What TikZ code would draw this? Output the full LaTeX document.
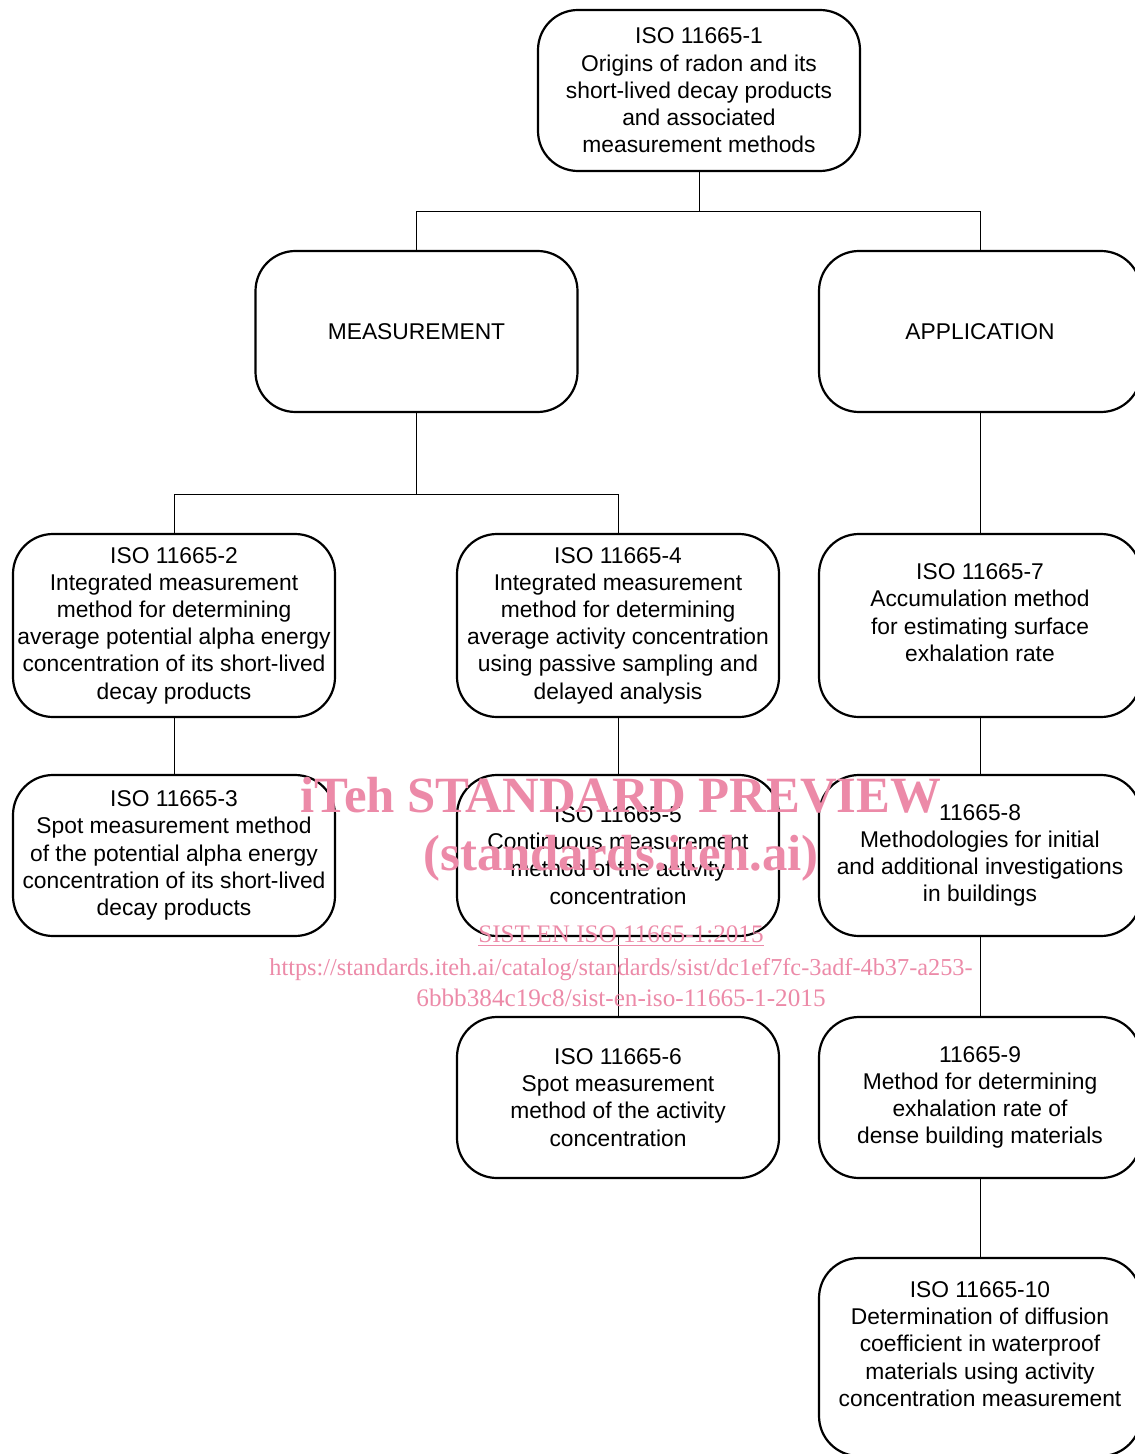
\documentclass[tikz,border=0pt]{standalone}
\usepackage{fontspec}
\setmainfont{Liberation Sans}
\newfontfamily\wmfont{Liberation Serif}
\definecolor{wmpink}{RGB}{236,138,168}

\begin{document}
\begin{tikzpicture}[x=0.5pt,y=-0.5pt]
		\tikzstyle{box}=[draw,line width=1.1pt,rounded corners=20pt,align=center,inner sep=2pt,
			minimum width=161pt,minimum height=80.5pt,font=\fontsize{11.4}{13.6}\selectfont]
		\tikzstyle{tall}=[minimum height=91.5pt]
		\tikzstyle{link}=[line width=0.5pt]
		\tikzstyle{wm}=[text=wmpink,anchor=base,inner sep=0pt]

		\useasboundingbox (0,0) rectangle (1134,1454);

		% top of the tree
		\node[box] (iso1) at (699,90.5) {ISO 11665-1\\Origins of radon and its\\short-lived decay products\\and associated\\measurement methods};
		\node[box] (meas) at (416.5,331.5) {MEASUREMENT};
		\node[box] (appl) at (980,331.5) {APPLICATION};

		% measurement side
		\node[box,tall] (iso2) at (174,625.5) {ISO 11665-2\\Integrated measurement\\method for determining\\average potential alpha energy\\concentration of its short-lived\\decay products};
		\node[box,tall] (iso4) at (618,625.5) {ISO 11665-4\\Integrated measurement\\method for determining\\average activity concentration\\using passive sampling and\\delayed analysis};
		\node[box] (iso3) at (174,855.5) {ISO 11665-3\\Spot measurement method\\of the potential alpha energy\\concentration of its short-lived\\decay products};
		\node[box] (iso5) at (618,855.5) {ISO 11665-5\\Continuous measurement\\method of the activity\\concentration};
		\node[box] (iso6) at (618,1097.5) {ISO 11665-6\\Spot measurement\\method of the activity\\concentration};

		% application side
		\node[box,tall] (iso7) at (980,625.5) {ISO 11665-7\\Accumulation method\\for estimating surface\\exhalation rate\\[-0.6pt]\mbox{}};
		\node[box] (iso8) at (980,855.5) {11665-8\\Methodologies for initial\\and additional investigations\\in buildings};
		\node[box] (iso9) at (980,1097.5) {11665-9\\Method for determining\\exhalation rate of\\dense building materials};
		\node[box,minimum height=99pt] (iso10) at (980,1357) {ISO 11665-10\\Determination of diffusion\\coefficient in waterproof\\materials using activity\\concentration measurement\\[-0.6pt]\mbox{}};

		\draw[link] (iso1.south) -- ++(0,39) -| (meas.north);
		\draw[link] (iso1.south) ++(0,39) -| (appl.north);
		\draw[link] (meas.south) -- ++(0,81) -| (iso2.north);
		\draw[link] (meas.south) ++(0,81) -| (iso4.north);
		\draw[link] (appl) -- (iso7);
		\draw[link] (iso2) -- (iso3);
		\draw[link] (iso4) -- (iso5);
		\draw[link] (iso5) -- (iso6);
		\draw[link] (iso7) -- (iso8);
		\draw[link] (iso8) -- (iso9);
		\draw[link] (iso9) -- (iso10);

		% watermark
		\node[wm,font=\wmfont\bfseries\fontsize{25.4}{28}\selectfont] (wmtitle) at (621,812) {iTeh STANDARD PREVIEW};
		\node[wm,font=\wmfont\bfseries\fontsize{25.4}{28}\selectfont] (wmsite) at (621,870) {(standards.iteh.ai)};
		\node[wm,font=\wmfont\fontsize{12.6}{14}\selectfont] (wmdoc) at (621,942) {\underline{SIST EN ISO 11665-1:2015}};
		\node[wm,font=\wmfont\fontsize{12.15}{14}\selectfont] (wmurl) at (621,975) {https://standards.iteh.ai/catalog/standards/sist/dc1ef7fc-3adf-4b37-a253-};
		\node[wm,font=\wmfont\fontsize{12.6}{14}\selectfont] (wmurlb) at (621,1006) {6bbb384c19c8/sist-en-iso-11665-1-2015};
	\end{tikzpicture}
\end{document}
